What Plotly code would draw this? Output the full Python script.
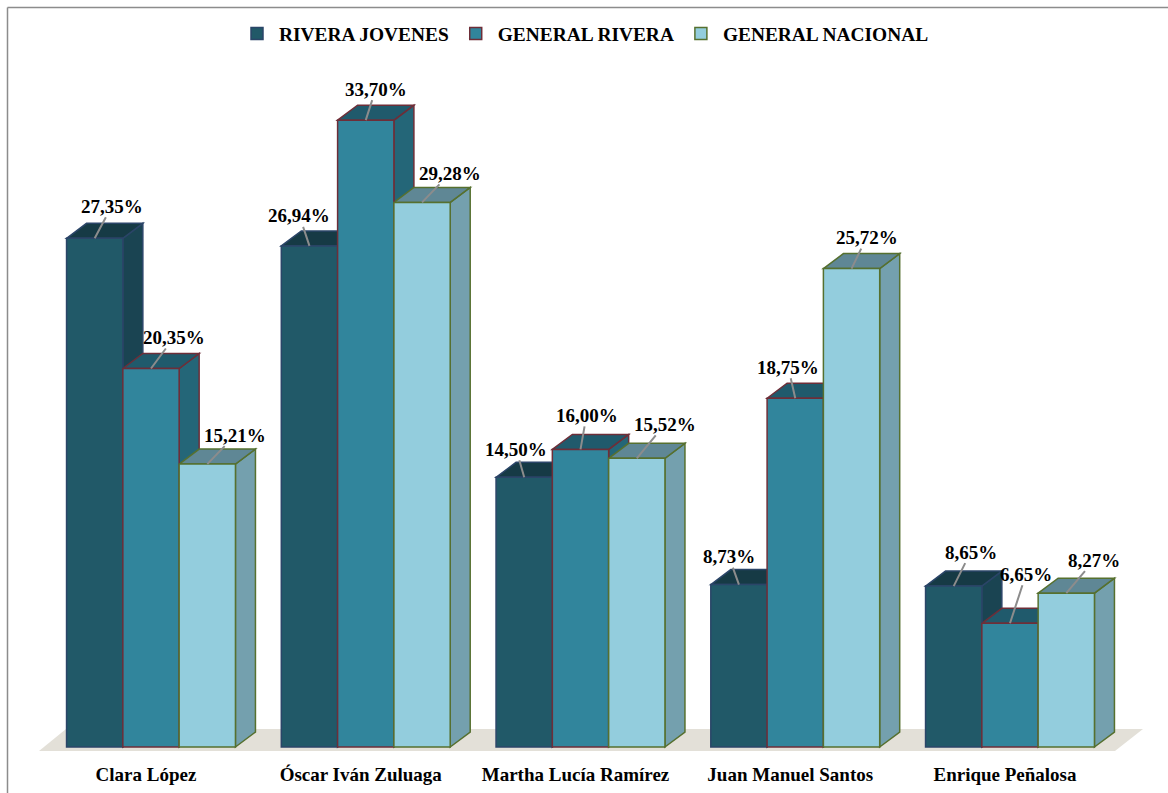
import plotly.graph_objects as go

categories = ["Clara López", "Óscar Iván Zuluaga", "Martha Lucía Ramírez", "Juan Manuel Santos", "Enrique Peñalosa"]
series_names = ["RIVERA JOVENES", "GENERAL RIVERA", "GENERAL NACIONAL"]
rivera_jovenes = [27.35, 26.94, 14.50, 8.73, 8.65]
general_rivera = [20.35, 33.70, 16.00, 18.75, 6.65]
general_nacional = [15.21, 29.28, 15.52, 25.72, 8.27]
series_values = [rivera_jovenes, general_rivera, general_nacional]

front_colors = ["#215968", "#31859c", "#93cddd"]
top_colors = ["#163a45", "#205a6c", "#5f8795"]
side_colors = ["#1a4452", "#246678", "#74a0ae"]
line_colors = ["#2b4568", "#6e2e38", "#56702f"]

# label offsets from each bar's top-centre, px (label centre)
label_dx = [[17, 23, 28], [-10, 10, 28], [-8, 6, 28], [-10, -7, 15], [17, 16, 28]]
label_dy = [[-32, -31, -29], [-30, -31, -29], [-28, -34, -34], [-28, -31, -31], [-34, -49, -33]]

W, H = 1168, 793
BOTTOM = 32            # px under the plot area, for the category labels
PH = H - BOTTOM
PX_X = 214.75          # px per category
PX_Y = 18.6            # px per percent
X0 = 151               # px of first category centre
Y0 = 747               # px of 0%
BAR = 56.3 / PX_X
DX = 20 / PX_X         # depth of the 3-D extrusion
DY = 15 / PX_Y

x_range = [-X0 / PX_X, (W - X0) / PX_X]
y_range = [-(PH - Y0) / PX_Y, Y0 / PX_Y]

FONT = "Liberation Serif"
fig = go.Figure()
shapes = []
annotations = []


def poly(pts):
    return "M " + " L ".join(f"{a:.4f},{b:.4f}" for a, b in pts) + " Z"


n = len(categories)
# floor
shapes.append(dict(type="path", layer="below", xref="x", yref="y",
                   path=poly([(x_range[0] + 39 / PX_X, -4 / PX_Y), (x_range[0] + 66 / PX_X, 18 / PX_Y),
                              (x_range[0] + 1143 / PX_X, 18 / PX_Y), (x_range[0] + 1115 / PX_X, -4 / PX_Y)]),
                   fillcolor="#e3e0d8", line=dict(width=0)))

for s, vals in enumerate(series_values):
    fig.add_trace(go.Bar(x=list(range(n)), y=vals, name=f"<b>{series_names[s]}</b>", width=BAR,
                         offset=(s - 1.5) * BAR,
                         marker=dict(color=front_colors[s], line=dict(color=line_colors[s], width=1.5))))
    for i, v in enumerate(vals):
        l = i + (s - 1.5) * BAR
        r = l + BAR
        shapes.append(dict(type="path", layer="below", xref="x", yref="y",
                           path=poly([(r, 0), (r + DX, DY), (r + DX, v + DY), (r, v)]),
                           fillcolor=side_colors[s], line=dict(color=line_colors[s], width=1.5)))
        shapes.append(dict(type="path", layer="below", xref="x", yref="y",
                           path=poly([(l, v), (l + DX, v + DY), (r + DX, v + DY), (r, v)]),
                           fillcolor=top_colors[s], line=dict(color=line_colors[s], width=1.5)))
        annotations.append(dict(x=(l + r) / 2, y=v, xref="x", yref="y", axref="pixel", ayref="pixel",
                                ax=label_dx[i][s], ay=label_dy[i][s],
                                text="<b>" + f"{v:.2f}%".replace(".", ",") + "</b>",
                                showarrow=True, arrowhead=0, arrowwidth=2, arrowcolor="#8c8c8c",
                                font=dict(family=FONT, size=19, color="#000000"),
                                bgcolor="rgba(0,0,0,0)", borderpad=0))

# frame, top and left only
shapes.append(dict(type="line", xref="paper", yref="paper", x0=7.5 / W, x1=7.5 / W,
                   y0=-BOTTOM / PH, y1=1 - 7.5 / PH, line=dict(color="#8c8c8c", width=1.5)))
shapes.append(dict(type="line", xref="paper", yref="paper", x0=7.5 / W, x1=1,
                   y0=1 - 7.5 / PH, y1=1 - 7.5 / PH, line=dict(color="#8c8c8c", width=1.5)))

fig.update_layout(
    width=W, height=H, margin=dict(l=0, r=0, t=0, b=BOTTOM, pad=0),
    paper_bgcolor="#ffffff", plot_bgcolor="rgba(0,0,0,0)",
    barmode="overlay", shapes=shapes, annotations=annotations,
    font=dict(family=FONT, color="#000000"),
    showlegend=True,
    legend=dict(orientation="h", x=235 / W, xanchor="left", y=1 - 34 / PH, yanchor="middle",
                itemwidth=34,
                font=dict(family=FONT, size=19.4, color="#000000"), bgcolor="rgba(0,0,0,0)"),
    xaxis=dict(range=x_range, tickmode="array", tickvals=list(range(n)),
               ticktext=[f"<b>{c}</b>" for c in categories], showgrid=False, zeroline=False,
               showline=False, ticks="", automargin=False, ticklabelshift=-5,
               tickfont=dict(family=FONT, size=19, color="#000000")),
    yaxis=dict(range=y_range, visible=False, showgrid=False, zeroline=False),
)
fig.write_html("out.html", config=dict(displayModeBar=False),
               post_script="document.body.style.margin='0';document.documentElement.style.overflow='hidden';")
